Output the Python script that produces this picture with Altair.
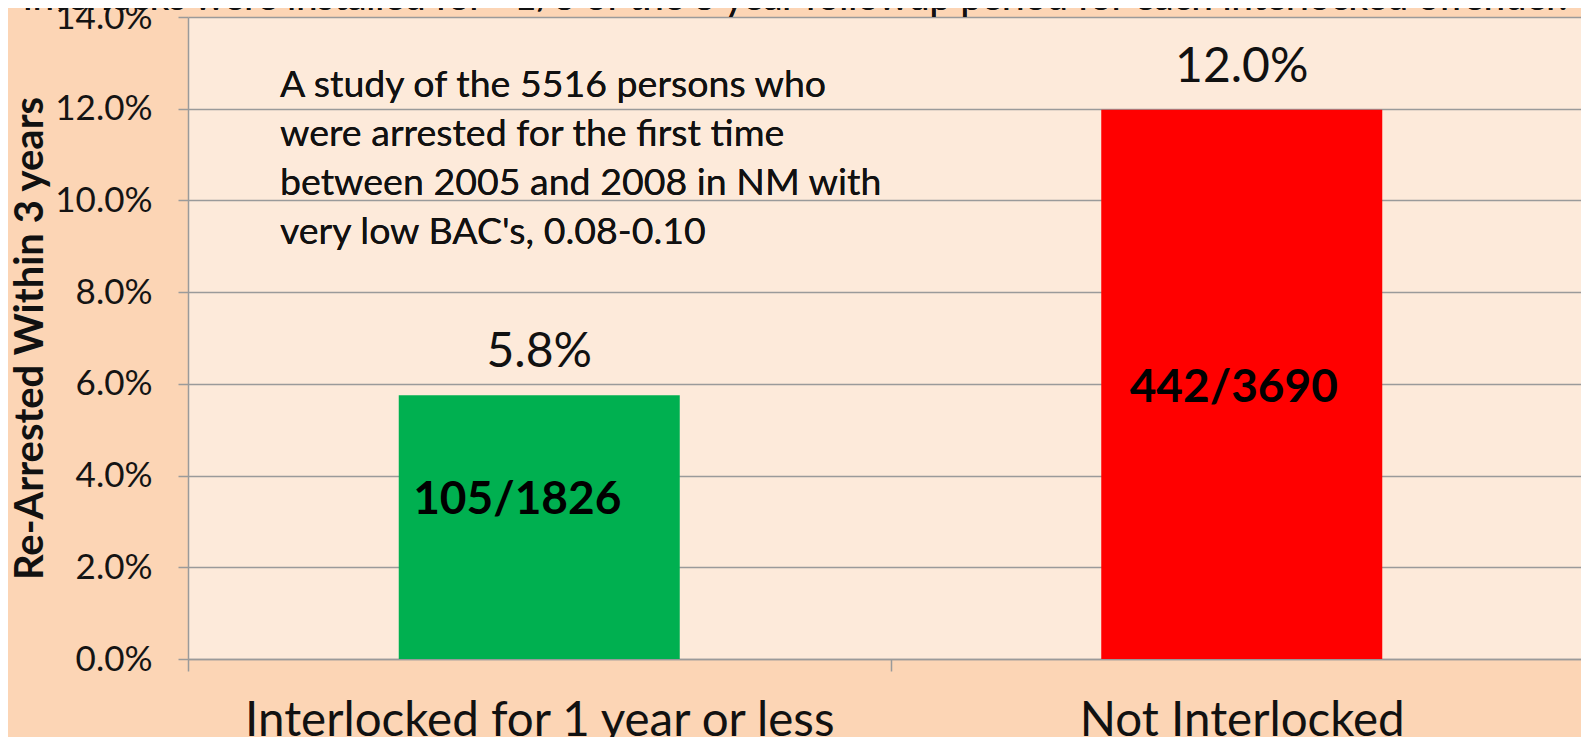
import altair as alt
import pandas as pd

categories = ["Interlocked for 1 year or less", "Not Interlocked"]
rates = [5.75, 11.98]
rate_labels = ["5.8%", "12.0%"]
counts = ["105/1826", "442/3690"]
bar_colors = ["#00B050", "#FF0000"]
y_ticks = [0, 2, 4, 6, 8, 10, 12, 14]
note_lines = [
    "A study of  the 5516 persons who",
    "were arrested for the first time",
    "between  2005 and 2008 in NM with",
    "very low BAC's, 0.08-0.10",
]
top_text = "Interlocks were installed for ~1/3 of the 3 year followup period for each interlocked offender."

df = pd.DataFrame({"cat": categories, "rate": rates, "lab": rate_labels, "cnt": counts})

FONT = "Lato"
x_enc = alt.X(
    "cat:N",
    sort=categories,
    scale=alt.Scale(paddingInner=0, paddingOuter=0, range=[0, 1405]),
    axis=alt.Axis(
        title=None, labelFontSize=47.5, labelFont=FONT, labelColor="#111111",
        labelAngle=0, labelLimit=0, tickBand="extent", tickSize=12, tickColor="#9a9a9a",
        domainColor="#9a9a9a", domainWidth=1.5, tickWidth=1.5, labelPadding=26,
        grid=False,
    ),
)
y_scale = alt.Scale(domain=[0, 14], nice=False)

base = alt.Chart(df)

bars = base.mark_bar(width=alt.RelativeBandSize(0.4)).encode(
    x=x_enc,
    y=alt.Y(
        "rate:Q",
        scale=y_scale,
        axis=alt.Axis(
            values=y_ticks, labelExpr="format(datum.value, '.1f') + '%'",
            title="Re-Arrested Within 3 years", titleFont=FONT, titleFontSize=40,
            titleFontWeight="bold", titleColor="#111111",
            titleX=-158, titleY=321, titleAngle=270, titleBaseline="middle", titleAlign="center",
            labelFont=FONT, labelFontSize=35, labelColor="#141414", labelPadding=26,
            tickSize=10, tickColor="#9a9a9a", tickWidth=1.5,
            domainColor="#9a9a9a", domainWidth=1.5,
            grid=True, gridColor="#9a9a9a", gridWidth=1.5,
        ),
    ),
    color=alt.Color("cat:N", sort=categories,
                    scale=alt.Scale(domain=categories, range=bar_colors), legend=None),
)

value_text = base.mark_text(dy=-42, baseline="middle", font=FONT, fontSize=48,
                            color="#111111").encode(
    x=alt.X("cat:N", sort=categories), y=alt.Y("rate:Q", scale=y_scale), text="lab:N")

cnt1 = base.mark_text(dx=-22, baseline="middle", font=FONT, fontSize=46, fontWeight="bold",
                      color="#000000").encode(
    x=alt.X("cat:N", sort=categories), y=alt.value(483), text="cnt:N"
).transform_filter(alt.datum.cat == categories[0])

cnt2 = base.mark_text(dx=-8, baseline="middle", font=FONT, fontSize=46, fontWeight="bold",
                      color="#000000").encode(
    x=alt.X("cat:N", sort=categories), y=alt.value(371), text="cnt:N"
).transform_filter(alt.datum.cat == categories[1])

note = base.mark_text(align="left", baseline="middle", font=FONT, fontSize=37.5,
                      lineHeight=49, color="#111111").encode(
    x=alt.value(92), y=alt.value(69), text=alt.value(note_lines))

top = base.mark_text(align="center", baseline="alphabetic", font=FONT, fontSize=38,
                     color="#111111").encode(
    x=alt.value(607), y=alt.value(-7), text=alt.value(top_text))

chart = alt.layer(bars, value_text, cnt1, cnt2, note, top).properties(
    width=1393, height=642,
    autosize=alt.AutoSizeParams(type="none"),
    padding={"left": 180, "top": 9, "right": 0, "bottom": 78},
    background="#FCD5B5",
).configure_view(fill="#FDEADA", stroke=None)

chart.save("out.html", embed_options={"renderer": "svg", "actions": False})
